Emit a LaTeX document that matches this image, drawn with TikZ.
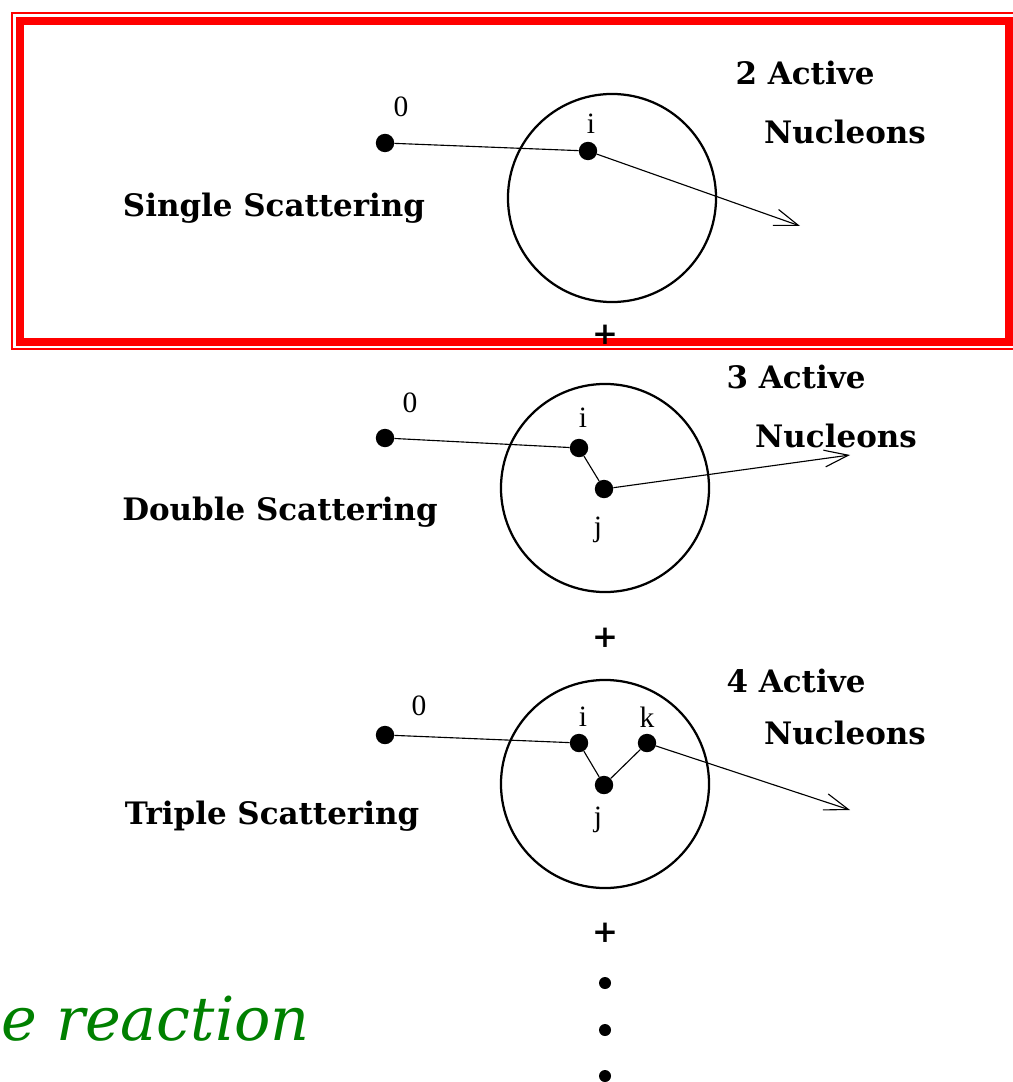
\documentclass[tikz,border=0pt]{standalone}
\usepackage{fontspec}
\usepackage{xcolor}
\usepackage{tikz}
\usetikzlibrary{positioning, arrows.meta}
\definecolor{framered}{RGB}{255,0,0}
\definecolor{notegreen}{RGB}{0,128,0}
\newfontfamily\slabfont{DejaVu Serif}
\newfontfamily\timesfont{Liberation Serif}
\newcommand{\boldlbl}{\slabfont\bfseries\fontsize{22}{26}\selectfont}
\newcommand{\idxlbl}{\timesfont\fontsize{21}{25}\selectfont}
\newcommand{\handfont}{\slabfont\itshape\fontsize{43}{50}\selectfont}

\begin{document}
\begin{tikzpicture}[
        x=0.025cm, y=-0.025cm,
        nucleon/.style={circle, fill=black, inner sep=0pt, minimum size=0.46cm},
        nucleus/.style={circle, draw, line width=1.6pt, inner sep=0pt, minimum size=5.2cm},
        bolltext/.style={font=\boldlbl, inner sep=0pt},
        idx/.style={font=\idxlbl, inner sep=0pt},
        path/.style={line width=0.8pt},
        outgo/.style={line width=0.8pt, -{Straight Barb[length=0.6cm, width=0.42cm, line width=0.8pt]}},
        plus/.style={font=\boldlbl, inner sep=0pt},
        smalldot/.style={circle, fill=black, inner sep=0pt, minimum size=0.3cm}
    ]
    \useasboundingbox (0,0) rectangle (1012,1082);

    % highlighted first term
    \draw[framered, line width=0.2cm] (20,21) rectangle (1009,342);
    \draw[framered, line width=0.9pt] (12,13) rectangle (1020,349);

    % single scattering
    \node[nucleus] (nuc1) at (612,198) {};
    \node[nucleon] (a0) at (385,143) {};
    \node[nucleon] (ai) at (588,151) {};
    \node[idx] at (401,107) {0};
    \node[idx] at (591,124) {i};
    \coordinate (aout) at (800,226);
    \draw[path] (a0) -- (ai);
    \draw[outgo] (ai) -- (aout);
    \node[bolltext] (single) at (274,208) {Single Scattering};
    \node[bolltext] (act2) at (805,73) {2 Active};
    \node[bolltext] (nuc2lbl) at (845,132) {Nucleons};
    \node[plus] (plus1) at (605,335) {+};

    % double scattering
    \node[nucleus] (nuc2) at (605,488) {};
    \node[nucleon] (b0) at (385,438) {};
    \node[nucleon] (bi) at (579,448) {};
    \node[nucleon] (bj) at (604,489) {};
    \node[idx] at (410,403) {0};
    \node[idx] at (583,418) {i};
    \node[idx] at (598,530) {j};
    \coordinate (bout) at (850,455);
    \draw[path] (b0) -- (bi);
    \draw[path] (bi) -- (bj);
    \draw[outgo] (bj) -- (bout);
    \node[bolltext] (double) at (280,512) {Double Scattering};
    \node[bolltext] (act3) at (796,377) {3 Active};
    \node[bolltext] (nuc3lbl) at (836,436) {Nucleons};
    \node[plus] (plus2) at (605,638) {+};

    % triple scattering
    \node[nucleus] (nuc3) at (605,784) {};
    \node[nucleon] (c0) at (385,735) {};
    \node[nucleon] (ci) at (579,743) {};
    \node[nucleon] (cj) at (604,785) {};
    \node[nucleon] (ck) at (647,743) {};
    \node[idx] at (419,706) {0};
    \node[idx] at (583,717) {i};
    \node[idx] at (598,820) {j};
    \node[idx] at (647,717) {k};
    \coordinate (cout) at (850,810);
    \draw[path] (c0) -- (ci);
    \draw[path] (ci) -- (cj);
    \draw[path] (cj) -- (ck);
    \draw[outgo] (ck) -- (cout);
    \node[bolltext] (triple) at (272,816) {Triple Scattering};
    \node[bolltext] (act4) at (796,681) {4 Active};
    \node[bolltext] (nuc4lbl) at (845,733) {Nucleons};
    \node[plus] (plus3) at (605,933) {+};

    % higher orders
    \node[smalldot] (dot1) at (605,983) {};
    \node[smalldot] (dot2) at (605,1030) {};
    \node[smalldot] (dot3) at (605,1076) {};

    \node[font=\handfont, text=notegreen, inner sep=0pt, anchor=base west] (note) at (1,1040) {e reaction};
\end{tikzpicture}
\end{document}
